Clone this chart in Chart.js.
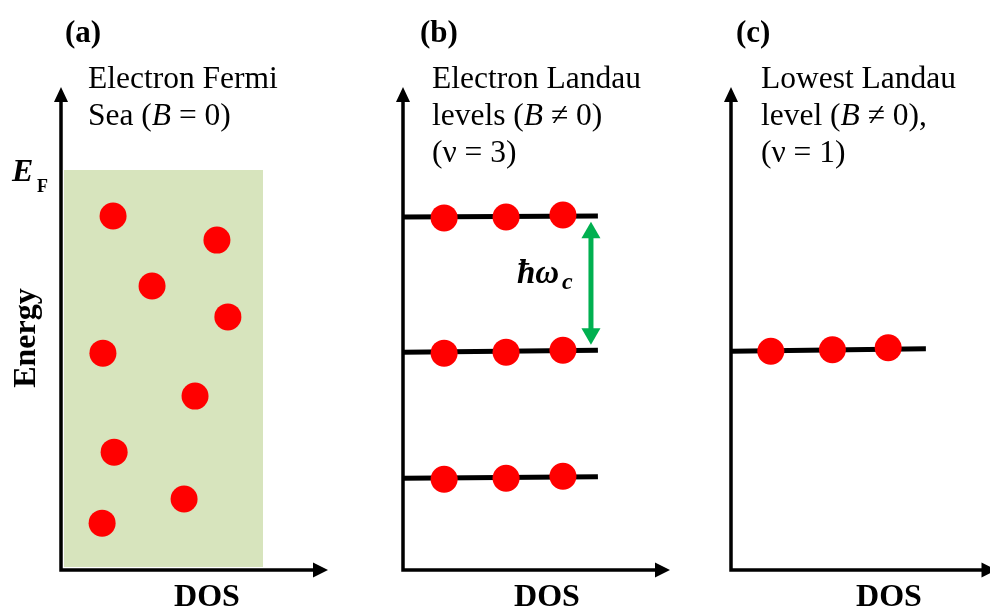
<!DOCTYPE html>
<html>
<head>
<meta charset="utf-8">
<title>Fermi sea and Landau levels</title>
<script src="https://cdn.jsdelivr.net/npm/chart.js@4.4.1/dist/chart.umd.min.js"></script>
<style>
  html, body { margin: 0; padding: 0; background: #fff; overflow: hidden; }
  #wrap { position: relative; width: 990px; height: 613px; overflow: hidden; }
  #wrap canvas { position: absolute; left: 0; top: 0; }
</style>
</head>
<body>
<div id="wrap">
  <canvas id="panelA" width="1010" height="613"></canvas>
  <canvas id="panelB" width="1010" height="613"></canvas>
  <canvas id="panelC" width="1010" height="613"></canvas>
</div>
<script>
// (a) electrons in the Fermi sea, B = 0  (DOS and energy in arbitrary units, 0..10)
const seaDos = [1.95, 5.84, 3.41, 6.25, 1.57, 5.02, 1.99, 4.61, 1.54];
const seaEnergy = [7.33, 6.83, 5.88, 5.24, 4.49, 3.60, 2.44, 1.47, 0.97];
const fermiEnergy = 8.28;
const seaEdges = [0.11, 7.57];
const seaFloor = 0.06;

// (b) three Landau levels, nu = 3
const levelStartB = [7.31, 4.51, 1.90];
const levelEndB = [7.33, 4.55, 1.93];
const levelDosB = [0, 7.30];
const electronDosB = [1.54, 3.86, 5.99];
const electronEnergyB = [[7.29, 7.31, 7.35], [4.49, 4.51, 4.55], [1.88, 1.90, 1.94]];
const gapDos = 7.04;
const gapEnergy = [6.98, 4.89];

// (c) lowest Landau level only, nu = 1
const levelStartC = [4.53];
const levelEndC = [4.58];
const levelDosC = [0, 7.34];
const electronDosC = [1.50, 3.82, 5.92];
const electronEnergyC = [[4.53, 4.56, 4.60]];

const SERIF = '"Liberation Serif", "Times New Roman", serif';
const norm = '31.5px ' + SERIF;
const ital = 'italic 31.5px ' + SERIF;
const bold = 'bold 32px ' + SERIF;
const RED = '#ff0000';

// axis lines with arrow heads, drawn on the chart area edges
const axesPlugin = {
  id: 'axes',
  beforeDatasetsDraw(chart) {
    const { ctx, chartArea: a } = chart;
    ctx.save();
    ctx.strokeStyle = '#000';
    ctx.fillStyle = '#000';
    ctx.lineWidth = 3.5;
    ctx.beginPath();
    ctx.moveTo(a.left, a.top + 12);
    ctx.lineTo(a.left, a.bottom);
    ctx.lineTo(a.right - 12, a.bottom);
    ctx.stroke();
    ctx.beginPath();
    ctx.moveTo(a.left, a.top);
    ctx.lineTo(a.left - 7, a.top + 15);
    ctx.lineTo(a.left + 7, a.top + 15);
    ctx.closePath();
    ctx.fill();
    ctx.beginPath();
    ctx.moveTo(a.right, a.bottom);
    ctx.lineTo(a.right - 15, a.bottom - 7.5);
    ctx.lineTo(a.right - 15, a.bottom + 7.5);
    ctx.closePath();
    ctx.fill();
    ctx.restore();
  }
};

function drawRuns(ctx, x, y, runs) {
  runs.forEach(([text, font]) => {
    ctx.font = font;
    ctx.fillText(text, x, y);
    x += ctx.measureText(text).width;
  });
}

const labelsPlugin = {
  id: 'labels',
  afterDraw(chart, args, opts) {
    const ctx = chart.ctx;
    ctx.save();
    ctx.fillStyle = '#000';
    ctx.textBaseline = 'alphabetic';
    (opts.items || []).forEach(it => {
      ctx.save();
      ctx.translate(it.x, it.y);
      if (it.rotate) ctx.rotate(it.rotate);
      if (it.center) {
        ctx.font = it.runs[0][1];
        ctx.textAlign = 'center';
        ctx.fillText(it.runs[0][0], 0, 0);
      } else {
        ctx.textAlign = 'left';
        drawRuns(ctx, 0, 0, it.runs);
      }
      ctx.restore();
    });
    ctx.restore();
  }
};

function levelSets(starts, ends, dos) {
  return starts.map((s, i) => ({
    type: 'line', showLine: true,
    data: [{ x: dos[0], y: s }, { x: dos[1], y: ends[i] }],
    borderColor: '#000', borderWidth: 5, pointRadius: 0, order: 2
  }));
}

// rows of energies, column i sits at dos[i]
function electronSet(dos, energies) {
  const pts = [];
  energies.forEach(row => row.forEach((e, i) => pts.push({ x: dos[i], y: e })));
  return {
    data: pts, showLine: false, pointRadius: 13.5, pointHoverRadius: 13.5,
    backgroundColor: RED, pointBorderWidth: 0, borderColor: RED, order: 0
  };
}

function makePanel(id, left, datasets, items) {
  return new Chart(document.getElementById(id), {
    type: 'scatter',
    data: { datasets },
    options: {
      responsive: false, animation: false, events: [],
      layout: { padding: { left: left, right: 1010 - (left + 267), top: 87, bottom: 613 - 570 } },
      scales: {
        x: { type: 'linear', min: 0, max: 10, display: false },
        y: { type: 'linear', min: 0, max: 10, display: false }
      },
      datasets: { line: { clip: false }, scatter: { clip: false } },
      plugins: { legend: { display: false }, tooltip: { enabled: false }, labels: { items } }
    },
    plugins: [axesPlugin, labelsPlugin]
  });
}

// (a)
makePanel('panelA', 61, [
  {
    type: 'line', showLine: true,
    data: [{ x: seaEdges[0], y: fermiEnergy }, { x: seaEdges[1], y: fermiEnergy }],
    fill: { value: seaFloor }, backgroundColor: '#d7e4bd', borderWidth: 0, pointRadius: 0, order: 3
  },
  electronSet(seaDos, [seaEnergy])
], [
  { x: 65, y: 42, runs: [['(a)', 'bold 31px ' + SERIF]] },
  { x: 88, y: 88, runs: [['Electron Fermi', norm]] },
  { x: 88, y: 125, runs: [['Sea (', norm], ['B', ital], [' = 0)', norm]] },
  { x: 12, y: 181, runs: [['E', 'bold italic 32px ' + SERIF]] },
  { x: 37, y: 192, runs: [['F', 'bold 18px ' + SERIF]] },
  { x: 35, y: 338, rotate: -Math.PI / 2, center: true, runs: [['Energy', bold]] },
  { x: 207, y: 606, center: true, runs: [['DOS', bold]] }
]);

// (b)
makePanel('panelB', 403, [
  electronSet(electronDosB, electronEnergyB),
  {
    type: 'line', showLine: true,
    data: [{ x: gapDos, y: gapEnergy[0] }, { x: gapDos, y: gapEnergy[1] }],
    borderColor: '#00b050', borderWidth: 5,
    pointStyle: 'triangle', pointRadius: 11, pointRotation: [0, 180],
    pointBackgroundColor: '#00b050', pointBorderColor: '#00b050', pointBorderWidth: 0, order: 1
  },
  ...levelSets(levelStartB, levelEndB, levelDosB)
], [
  { x: 420, y: 42, runs: [['(b)', 'bold 31px ' + SERIF]] },
  { x: 432, y: 88, runs: [['Electron Landau', norm]] },
  { x: 432, y: 125, runs: [['levels (', norm], ['B', ital], [' \u2260 0)', norm]] },
  { x: 432, y: 162, runs: [['(\u03bd = 3)', norm]] },
  { x: 517, y: 283, runs: [['\u0127\u03c9', 'bold italic 33px ' + SERIF]] },
  { x: 562, y: 289, runs: [['c', 'bold italic 24px ' + SERIF]] },
  { x: 547, y: 606, center: true, runs: [['DOS', bold]] }
]);

// (c)
makePanel('panelC', 731, [
  electronSet(electronDosC, electronEnergyC),
  ...levelSets(levelStartC, levelEndC, levelDosC)
], [
  { x: 736, y: 42, runs: [['(c)', 'bold 31px ' + SERIF]] },
  { x: 761, y: 88, runs: [['Lowest Landau', norm]] },
  { x: 761, y: 125, runs: [['level (', norm], ['B', ital], [' \u2260 0),', norm]] },
  { x: 761, y: 162, runs: [['(\u03bd = 1)', norm]] },
  { x: 889, y: 606, center: true, runs: [['DOS', bold]] }
]);
</script>
</body>
</html>
